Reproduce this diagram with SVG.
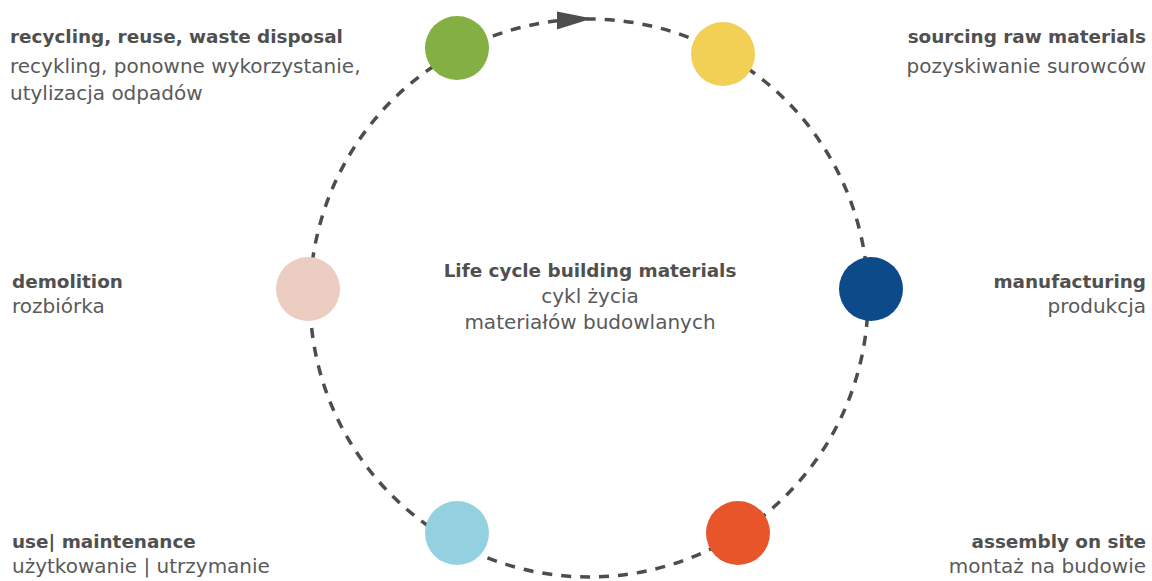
<svg xmlns="http://www.w3.org/2000/svg" width="1152" height="581" viewBox="0 0 1152 581">
<style>
.h{font-family:"DejaVu Sans","Liberation Sans",sans-serif;font-weight:bold;font-size:18.4px;fill:#505050}
.s{font-family:"DejaVu Sans","Liberation Sans",sans-serif;font-size:20px;fill:#5a5a5a}
.r{text-anchor:end}
.m{text-anchor:middle}
.ring{fill:none;stroke:#4d4d4d;stroke-width:3.5;stroke-dasharray:10 9}
</style>
<rect width="1152" height="581" fill="#ffffff"/>
<g id="connectors">
<circle class="ring" cx="589" cy="298" r="279"/>
<polygon points="557,11.5 592,18.5 557,29.5" fill="#4d4d4d"/>
</g>
<g id="recycling">
<circle cx="457" cy="48" r="32" fill="#84b043"/>
<text class="h" x="10" y="43">recycling, reuse, waste disposal</text>
<text class="s" x="10" y="73">recykling, ponowne wykorzystanie,</text>
<text class="s" x="10" y="100">utylizacja odpadów</text>
</g>
<g id="sourcing">
<circle cx="723" cy="54" r="32" fill="#f2cf55"/>
<text class="h r" x="1146" y="43">sourcing raw materials</text>
<text class="s r" x="1146" y="73">pozyskiwanie surowców</text>
</g>
<g id="manufacturing">
<circle cx="871" cy="289" r="32" fill="#0c4a8a"/>
<text class="h r" x="1146" y="288">manufacturing</text>
<text class="s r" x="1146" y="313">produkcja</text>
</g>
<g id="assembly">
<circle cx="738" cy="533" r="32" fill="#e8552b"/>
<text class="h r" x="1146" y="548">assembly on site</text>
<text class="s r" x="1146" y="573">montaż na budowie</text>
</g>
<g id="use">
<circle cx="457" cy="533" r="32" fill="#94d1e0"/>
<text class="h" x="12" y="548">use| maintenance</text>
<text class="s" x="12" y="573">użytkowanie | utrzymanie</text>
</g>
<g id="demolition">
<circle cx="308" cy="289" r="32" fill="#ebcdc2"/>
<text class="h" x="12" y="288">demolition</text>
<text class="s" x="12" y="313">rozbiórka</text>
</g>
<g id="center">
<text class="h m" x="590" y="277">Life cycle building materials</text>
<text class="s m" x="590" y="303">cykl życia</text>
<text class="s m" x="590" y="329">materiałów budowlanych</text>
</g>
</svg>
